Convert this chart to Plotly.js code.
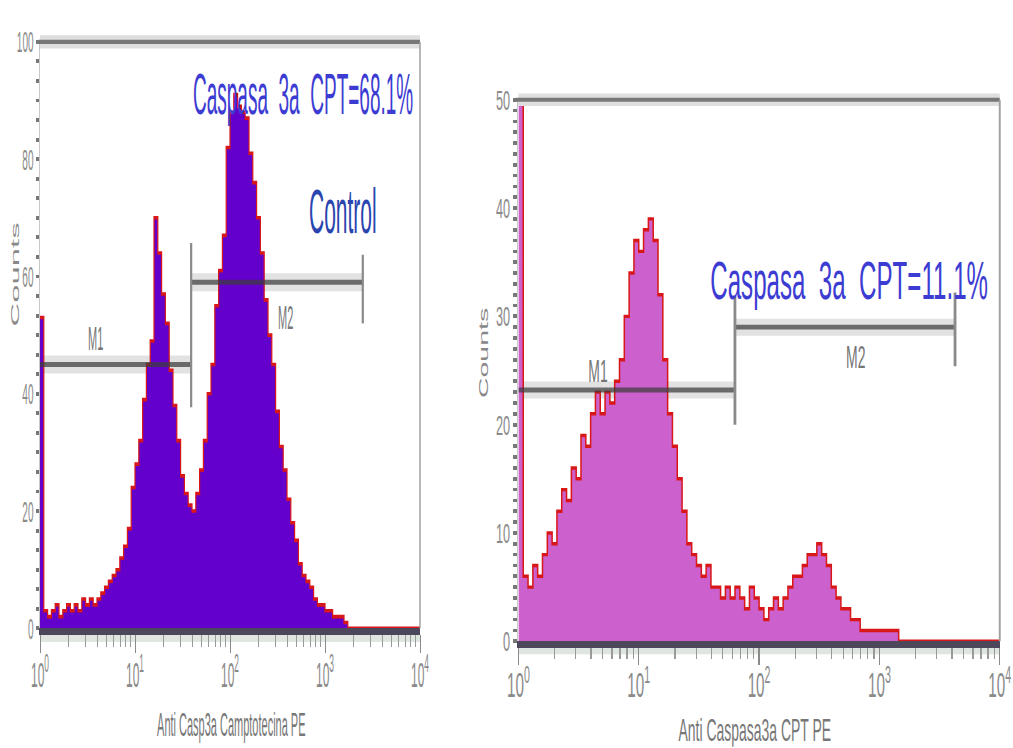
<!DOCTYPE html>
<html><head><meta charset="utf-8">
<script src="https://cdn.plot.ly/plotly-3.0.1.min.js"></script>
<style>
html,body{margin:0;padding:0;background:#fff;}
#stage{position:relative;width:1013px;height:748px;overflow:hidden;background:#fff;}
#left{position:absolute;left:0;top:0;width:460px;height:250px;transform-origin:0 0;transform:scale(1,2.992);}
#right{position:absolute;left:460px;top:0;width:435px;height:262px;transform-origin:0 0;transform:scale(1.27,2.85);}
</style></head>
<body><div id="stage"><div id="left"></div><div id="right"></div></div>
<script>
// ---- data (100 log channels spanning 10^0 .. 10^4) ----
const N_BINS = 100;
const controlCounts = [53,3,2,3,4,2,3,4,3,4,3,5,4,5,4,5,
  6,7,8,9,10,12,14,17,24,28,32,39,45,
  49,70,64,57,52,44,38,32,26,23,21,20,23,27,32,40,45,55,61,67,
  82,88,91,89,88,87,81,76,70,64,56,50,45,37,31,27,22,18,15,11,
  9,8,7,5,4,4,3,3,2,2,2,1,
  0,0,0,0,0,0,0,0,0,0,0,0,0,0,0,0,0,0,0];
const cptCounts = [60,6,5,7,6,8,10,9,12,14,13,
  16,15,19,18,21,23,21,23,22,24,
  26,30,34,37,36,38,39,37,32,26,
  21,18,15,12,9,8,7,6,7,5,
  5,4,5,4,5,4,3,5,4,3,
  2,3,4,3,4,5,6,6,7,8,
  8,9,8,7,5,4,3,3,2,2,
  1,1,1,1,1,1,1,1,
  0,0,0,0,0,0,0,0,0,0,0,0,0,0,0,0,0,0,0,0,0];
const xTickVals = [1,10,100,1000,10000];
const xTickText = ['10<sup>0</sup>','10<sup>1</sup>','10<sup>2</sup>','10<sup>3</sup>','10<sup>4</sup>'];
const controlYTicks = [0,20,40,60,80,100];
const cptYTicks = [0,10,20,30,40,50];
// gates: [start, end] channel value, level (counts)
const controlM1 = {x:[1,39], y:45, tick:[37.7,65.7], label:'M1', lx:3.8, ly:49.7};
const controlM2 = {x:[39,2500], y:59, tick:[52,63.7], label:'M2', lx:380, ly:52.9};
const cptM1 = {x:[1,63], y:23.2, tick:[20,31.8], label:'M1', lx:4.6, ly:25.1};
const cptM2 = {x:[63,4250], y:29.0, tick:[25.4,32.2], label:'M2', lx:627, ly:26.3};
const controlLabel = 'Caspasa  3a  CPT=68.1%';
const cptLabel = 'Caspasa  3a  CPT=11.1%';
const controlTitle = 'Anti Casp3a Camptotecina PE';
const cptTitle = 'Anti Caspasa3a CPT PE';

const FONT = "Arial, 'Liberation Sans', sans-serif";

function histTrace(counts, fill){
  const x = [], y = [];
  for (let i=0;i<counts.length;i++){ x.push(Math.pow(10, 4*i/N_BINS)); y.push(counts[i]); }
  x.push(10000); y.push(counts[counts.length-1]);
  return {x, y, type:'scatter', mode:'lines', line:{shape:'hv', color:'#d81818', width:1.2},
          fill:'tozeroy', fillcolor:fill, hoverinfo:'skip'};
}
function gateTraces(g1, g2){
  const band = [], dark = [], ticks = [];
  [g1,g2].forEach(g=>{
    band.push({x:g.x, y:[g.y,g.y], type:'scatter', mode:'lines', line:{color:'#e2e2e2', width:6}, hoverinfo:'skip'});
    dark.push({x:g.x, y:[g.y,g.y], type:'scatter', mode:'lines', line:{color:'rgba(60,60,60,0.72)', width:1.7}, hoverinfo:'skip'});
  });
  ticks.push({x:[g1.x[1],g1.x[1]], y:g1.tick, type:'scatter', mode:'lines', line:{color:'#8a8a8a', width:2.2}, hoverinfo:'skip'});
  ticks.push({x:[g2.x[1],g2.x[1]], y:g2.tick, type:'scatter', mode:'lines', line:{color:'#8a8a8a', width:2.2}, hoverinfo:'skip'});
  return {band, dark, ticks};
}
function minorLogVals(){
  const v=[]; for (let d=0; d<4; d++) for (let k=2;k<10;k++) v.push(k*Math.pow(10,d)); return v;
}
function makeLayout(o){
  return {
    width:o.w, height:o.h, margin:o.m, showlegend:false,
    paper_bgcolor:'#fff', plot_bgcolor:'#fff',
    font:{family:FONT, color:'#888'},
    xaxis:{type:'log', range:[0,4], showgrid:false, zeroline:false,
      showline:true, linecolor:'#4d475c', linewidth:2.3,
      ticks:'outside', ticklen:6, tickwidth:1, tickcolor:'#8a8a8a',
      tickmode:'array', tickvals:xTickVals, ticktext:xTickText,
      tickfont:{size:o.xtf, color:'#8a8a8a', family:FONT}, ticklabelstandoff:-3,
      minor:{tickmode:'array', tickvals:minorLogVals(), ticks:'outside', ticklen:4, tickwidth:1, tickcolor:'#9a9a9a', showgrid:false},
      fixedrange:true},
    yaxis:{range:[0,o.ymax], showgrid:false, zeroline:false,
      showline:true, linecolor:'#c8c8c8', linewidth:1.5,
      ticks:'outside', ticklen:3, tickwidth:1.3, tickcolor:'#777',
      tickmode:'array', tickvals:o.yticks,
      tickfont:{size:10, color:'#8a8a8a', family:FONT},
      minor:{dtick:o.minor, ticks:'outside', ticklen:3, tickwidth:1.3, tickcolor:'#777', showgrid:false},
      fixedrange:true},
    shapes:[
      {type:'line', xref:'x domain', yref:'y domain', x0:0, x1:1, y0:1, y1:1, line:{color:'#dedede', width:4.4}, layer:'above'},
      {type:'line', xref:'x domain', yref:'y domain', x0:-0.005, x1:1, y0:1, y1:1, line:{color:'#777', width:1.4}, layer:'above'},
      {type:'line', xref:'x domain', yref:'y domain', x0:1, x1:1, y0:0, y1:1, line:{color:'#a0a0a0', width:1.5}, layer:'above'},
      {type:'line', xref:'x domain', yref:'y domain', x0:0, x1:1, y0:o.bandY, y1:o.bandY, line:{color:'#dfe6df', width:2.3}, layer:'below'}
    ],
    annotations:o.ann.map(a=>Object.assign({xanchor:'center', yanchor:'middle'}, a))
  };
}
function gateLabels(g1,g2){
  return [g1,g2].map(g=>({x:Math.log10(g.lx), y:g.ly, xref:'x', yref:'y', text:g.label, showarrow:false,
    font:{size:11, color:'#777', family:FONT}}));
}

// ---- left panel ----
const gL = gateTraces(controlM1, controlM2);
const leftData = [...gL.band, histTrace(controlCounts,'#6400cc'), ...gL.dark, ...gL.ticks];
const leftAnn = [
  {xref:'paper', yref:'paper', x:0.692, y:0.9096, text:controlLabel, showarrow:false, font:{size:19, color:'#3c3cd2', family:FONT}},
  {xref:'paper', yref:'paper', x:0.797, y:0.713, text:'Control', showarrow:false, font:{size:21, color:'#2a45b0', family:FONT}},
  {xref:'paper', yref:'paper', x:-0.066, y:0.606, text:'Counts', textangle:-90, showarrow:false, font:{size:11, color:'#888', family:FONT}},
  {xref:'paper', yref:'paper', x:0.505, y:-0.162, text:controlTitle, showarrow:false, font:{size:11, color:'#777', family:FONT}},
  ...gateLabels(controlM1, controlM2)
];
Plotly.newPlot('left', leftData, makeLayout({w:460, h:250, m:{l:40, r:40, t:14.04, b:40.1, pad:0},
  ymax:100, yticks:controlYTicks, minor:10/3, xtf:12, bandY:-0.0173, ann:leftAnn}),
  {staticPlot:true, displayModeBar:false});

// ---- right panel ----
const gR = gateTraces(cptM1, cptM2);
const rightData = [...gR.band, histTrace(cptCounts,'#cc60cc'), ...gR.dark, ...gR.ticks];
const rightAnn = [
  {xref:'paper', yref:'paper', x:0.687, y:0.668, text:cptLabel, showarrow:false, font:{size:19, color:'#3c3cd2', family:FONT}},
  {xref:'paper', yref:'paper', x:-0.073, y:0.535, text:'Counts', textangle:-90, showarrow:false, font:{size:10, color:'#888', family:FONT}},
  {xref:'paper', yref:'paper', x:0.492, y:-0.162, text:cptTitle, showarrow:false, font:{size:11, color:'#777', family:FONT}},
  ...gateLabels(cptM1, cptM2)
];
Plotly.newPlot('right', rightData, makeLayout({w:435, h:262, m:{l:45.7, r:9.8, t:35.1, b:36.7, pad:0},
  ymax:50, yticks:cptYTicks, minor:1, xtf:12, bandY:-0.018, ann:rightAnn}),
  {staticPlot:true, displayModeBar:false});
</script>
</body></html>
